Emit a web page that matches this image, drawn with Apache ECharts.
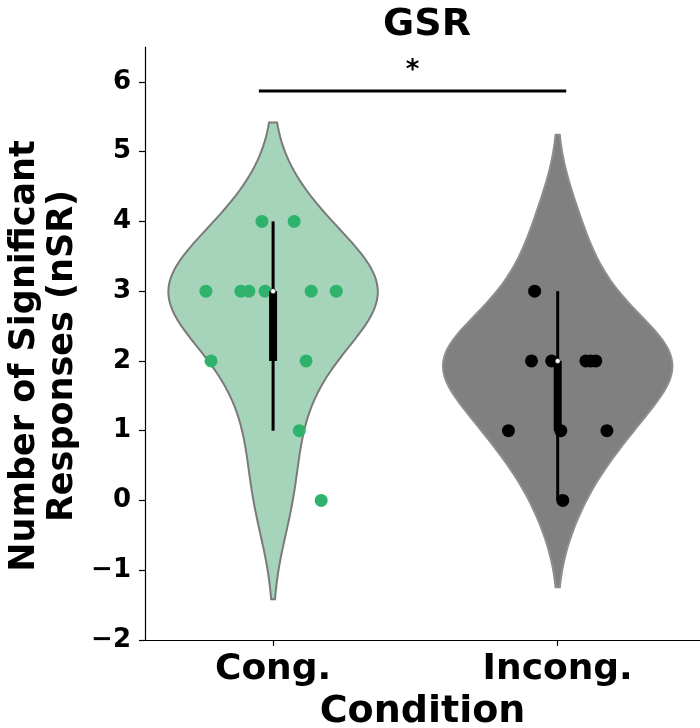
<!DOCTYPE html>
<html><head><meta charset="utf-8">
<script src="https://cdn.jsdelivr.net/npm/echarts@6/dist/echarts.min.js"></script>
<style>html,body{margin:0;padding:0;background:#fff}#c{width:700px;height:728px}</style>
</head><body><div id="c"></div>
<script>
// ---- data ----
const categories = ['Cong.', 'Incong.'];
const congValues   = [4, 4, 3, 3, 3, 3, 3, 3, 2, 2, 1, 0];
const congJitter   = [-0.039, 0.074, -0.236, -0.113, -0.085, -0.028, 0.134, 0.222, -0.218, 0.116, 0.092, 0.169];
const incongValues = [3, 2, 2, 2, 2, 2, 1, 1, 1, 0];
const incongJitter = [-0.081, -0.092, -0.021, 0.099, 0.116, 0.134, -0.173, 0.011, 0.173, 0.018];
const congViolinValues   = [4, 4, 3, 3, 3, 3, 3, 3, 2, 2, 1, 0];
const incongViolinValues = [0, 1, 1, 1, 2, 2, 2, 2, 2, 2, 3, 3, 4];
const yTicks = [-2, -1, 0, 1, 2, 3, 4, 5, 6];
const sigBarX = [-0.05, 1.03];
const sigBarY = 5.87;
const sigLabel = '*';
const sigLabelY = 6.15;

const FONT = '"DejaVu Sans", sans-serif';
const violinMaxHalfWidth = [0.368, 0.403];

// ---- derived statistics ----
function scottBw(v) {
  const n = v.length, m = v.reduce((a, b) => a + b, 0) / n;
  const s = Math.sqrt(v.reduce((a, b) => a + (b - m) * (b - m), 0) / (n - 1));
  return s * Math.pow(n, -0.2);
}
function kde(v, cut, grid) {
  const bw = scottBw(v), n = v.length;
  const lo = Math.min(...v) - cut * bw, hi = Math.max(...v) + cut * bw;
  const out = [];
  for (let i = 0; i < grid; i++) {
    const y = lo + (hi - lo) * i / (grid - 1);
    let d = 0;
    for (const x of v) d += Math.exp(-0.5 * ((y - x) / bw) ** 2);
    out.push([y, d / (n * bw * Math.sqrt(2 * Math.PI))]);
  }
  return out;
}
function quantile(sorted, p) {
  const pos = (sorted.length - 1) * p, i = Math.floor(pos), f = pos - i;
  return i + 1 < sorted.length ? sorted[i] + f * (sorted[i + 1] - sorted[i]) : sorted[i];
}
function boxStats(v) {
  const s = v.slice().sort((a, b) => a - b);
  const q1 = quantile(s, 0.25), q3 = quantile(s, 0.75), med = quantile(s, 0.5);
  const iqr = q3 - q1;
  const lo = Math.min(...s.filter(x => x >= q1 - 1.5 * iqr));
  const hi = Math.max(...s.filter(x => x <= q3 + 1.5 * iqr));
  return [lo, q1, med, q3, hi];
}

const profiles = [kde(congViolinValues, 2, 100), kde(incongViolinValues, 2, 100)];
const profileMax = profiles.map(p => Math.max(...p.map(q => q[1])));
const violinFill = ['#a6d4bb', '#808080'];
const violinEdge = ['#7a7a7a', '#8e8e8e'];
const boxes = [boxStats(congValues), boxStats(incongValues)];

const chart = echarts.init(document.getElementById('c'), null, {renderer: 'canvas'});
chart.setOption({
  animation: false,
  backgroundColor: '#fff',
  title: {
    text: 'GSR', left: 422, top: 1, textAlign: 'center',
    textStyle: {fontFamily: FONT, fontWeight: 'bold', fontSize: 38, color: '#000'}
  },
  grid: {left: 145, right: 0, top: 47, bottom: 88, containLabel: false, outerBoundsMode: 'none'},
  xAxis: {
    type: 'value', min: -0.45, max: 1.5,
    splitLine: {show: false},
    axisLine: {onZero: false, lineStyle: {color: '#000', width: 1.2}},
    axisTick: {customValues: [0, 1], length: 6, lineStyle: {color: '#000', width: 1.2}},
    axisLabel: {
      customValues: [0, 1], margin: 12,
      formatter: v => categories[Math.round(v)],
      fontFamily: FONT, fontWeight: 'bold', fontSize: 36, color: '#000'
    },
    name: 'Condition', nameLocation: 'middle', nameGap: 51,
    nameTextStyle: {fontFamily: FONT, fontWeight: 'bold', fontSize: 38, color: '#000'}
  },
  yAxis: {
    type: 'value', min: -2, max: 6.5, interval: 1,
    splitLine: {show: false},
    axisLine: {show: true, onZero: false, lineStyle: {color: '#000', width: 1.2}},
    axisTick: {show: true, customValues: yTicks, length: 6, lineStyle: {color: '#000', width: 1.2}},
    axisLabel: {
      customValues: yTicks, margin: 14,
      formatter: v => (v < 0 ? '\u2212' + Math.abs(v) : String(v)),
      fontFamily: FONT, fontWeight: 'bold', fontSize: 26, color: '#000'
    }
  },
  graphic: [{
    type: 'text', x: 44, y: 356, rotation: Math.PI / 2,
    style: {
      text: 'Number of Significant\nResponses (nSR)',
      font: 'bold 35px ' + FONT, textAlign: 'center', textVerticalAlign: 'middle',
      lineHeight: 38, fill: '#000'
    }
  }],
  series: [
    {
      type: 'custom', z: 1,
      data: [[0], [1]],
      renderItem: (params, api) => {
        const i = params.dataIndex, cx = api.value(0);
        const prof = profiles[i], k = violinMaxHalfWidth[i] / profileMax[i];
        const right = prof.map(([y, d]) => api.coord([cx + d * k, y]));
        const left = prof.slice().reverse().map(([y, d]) => api.coord([cx - d * k, y]));
        return {
          type: 'polygon',
          shape: {points: right.concat(left)},
          style: {fill: violinFill[i], stroke: violinEdge[i], lineWidth: 2}
        };
      }
    },
    {
      type: 'scatter', z: 3, symbolSize: 13,
      itemStyle: {color: '#2fb36c', opacity: 1},
      data: congValues.map((v, j) => [0 + congJitter[j], v])
    },
    {
      type: 'scatter', z: 3, symbolSize: 13,
      itemStyle: {color: '#000', opacity: 1},
      data: incongValues.map((v, j) => [1 + incongJitter[j], v])
    },
    {
      type: 'custom', z: 5,
      data: [[0], [1]],
      renderItem: (params, api) => {
        const i = params.dataIndex, cx = api.value(0);
        const [lo, q1, med, q3, hi] = boxes[i];
        const pLo = api.coord([cx, lo]), pHi = api.coord([cx, hi]);
        const pQ1 = api.coord([cx, q1]), pQ3 = api.coord([cx, q3]), pM = api.coord([cx, med]);
        return {
          type: 'group',
          children: [
            {type: 'line', shape: {x1: pLo[0], y1: pLo[1], x2: pHi[0], y2: pHi[1]},
             style: {stroke: '#000', lineWidth: 3}},
            {type: 'rect', shape: {x: pQ1[0] - 4, y: pQ3[1], width: 8, height: pQ1[1] - pQ3[1]},
             style: {fill: '#000'}},
            {type: 'circle', shape: {cx: pM[0], cy: pM[1], r: 2.5},
             style: {fill: '#fff', stroke: '#000', lineWidth: 0.5}}
          ]
        };
      }
    },
    {
      type: 'line', z: 4, symbol: 'none',
      lineStyle: {color: '#000', width: 3},
      data: [[sigBarX[0], sigBarY], [sigBarX[1], sigBarY]]
    },
    {
      type: 'custom', z: 4,
      data: [[(sigBarX[0] + sigBarX[1]) / 2, sigLabelY]],
      renderItem: (params, api) => {
        const p = api.coord([api.value(0), api.value(1)]);
        return {
          type: 'text', x: p[0], y: p[1],
          style: {
            text: sigLabel, font: 'bold 26px ' + FONT,
            textAlign: 'center', textVerticalAlign: 'middle', fill: '#000'
          }
        };
      }
    }
  ]
});
</script>
</body></html>
